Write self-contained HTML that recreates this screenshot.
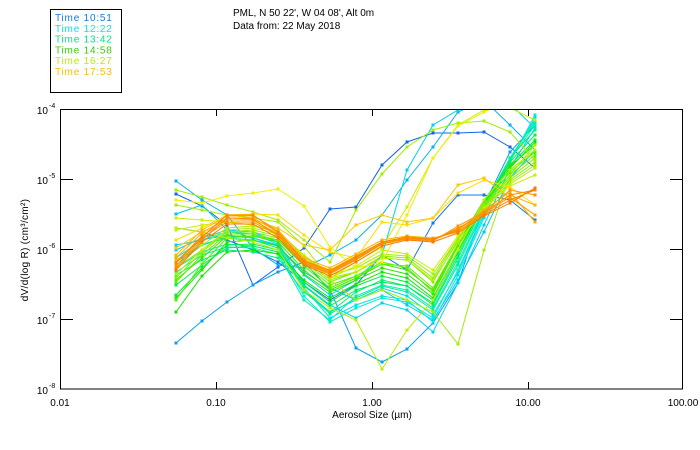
<!DOCTYPE html>
<html><head><meta charset="utf-8">
<style>
html,body{margin:0;padding:0;background:#fff;}
svg{display:block;}
text{font-family:"Liberation Sans",sans-serif;fill:#000;}
.s polyline{fill:none;stroke-width:1;}
.s path{fill:none;stroke-width:3;stroke-linecap:square;}
</style></head><body>
<svg width="700" height="450" viewBox="0 0 700 450" xmlns="http://www.w3.org/2000/svg">
<rect x="0" y="0" width="700" height="450" fill="#fff"/>
<defs><clipPath id="pc"><rect x="60" y="109" width="623" height="280"/></clipPath></defs>

<!-- legend -->
<rect x="50.5" y="9.5" width="71" height="83" fill="none" stroke="#000" stroke-width="1"/>
<g font-size="10" letter-spacing="0.8">
<text x="55" y="21" style="fill:#1478f0">Time 10:51</text>
<text x="55" y="31.8" style="fill:#00e6f0">Time 12:22</text>
<text x="55" y="42.6" style="fill:#00e680">Time 13:42</text>
<text x="55" y="53.4" style="fill:#32d200">Time 14:58</text>
<text x="55" y="64.2" style="fill:#b4f000">Time 16:27</text>
<text x="55" y="75" style="fill:#ffbe00">Time 17:53</text>
</g>

<!-- title -->
<text x="233" y="16" font-size="10">PML, N 50 22', W 04 08', Alt 0m</text>
<text x="233" y="29" font-size="10">Data from: 22 May 2018</text>

<!-- series -->
<g clip-path="url(#pc)" class="s">
<g stroke="#1464f0"><polyline points="176,194 202,206 227,225 253,285 278,267 304,248 330,209 356,207 382,165 407,142 433,133 458,133 484,132 510,147 535,168"/><path d="M176 194h0M202 206h0M227 225h0M253 285h0M278 267h0M304 248h0M330 209h0M356 207h0M382 165h0M407 142h0M433 133h0M458 133h0M484 132h0M510 147h0M535 168h0"/></g>
<g stroke="#1478f0"><polyline points="176,228 202,232 227,240 253,250 278,262 304,282 330,300 356,285 382,255 407,270 433,223 458,195 484,195 510,200 535,220"/><path d="M176 228h0M202 232h0M227 240h0M253 250h0M278 262h0M304 282h0M330 300h0M356 285h0M382 255h0M407 270h0M433 223h0M458 195h0M484 195h0M510 200h0M535 220h0"/></g>
<g stroke="#0aa0f0"><polyline points="176,343 202,321 227,302 253,285 278,272 304,262 330,290 356,348 382,362 407,349 433,323 458,283 484,205 510,152 535,125"/><path d="M176 343h0M202 321h0M227 302h0M253 285h0M278 272h0M304 262h0M330 290h0M356 348h0M382 362h0M407 349h0M433 323h0M458 283h0M484 205h0M510 152h0M535 125h0"/></g>
<g stroke="#00b4f0"><polyline points="176,181 202,200 227,215 253,248 278,265 304,268 330,255 356,240 382,215 407,180 433,147 458,112 484,100 510,125 535,150"/><path d="M176 181h0M202 200h0M227 215h0M253 248h0M278 265h0M304 268h0M330 255h0M356 240h0M382 215h0M407 180h0M433 147h0M458 112h0M484 100h0M510 125h0M535 150h0"/></g>
<g stroke="#00c8f0"><polyline points="176,214 202,205 227,230 253,238 278,246 304,272 330,288 356,300 382,290 407,305 433,320 458,280 484,232 510,178 535,150"/><path d="M176 214h0M202 205h0M227 230h0M253 238h0M278 246h0M304 272h0M330 288h0M356 300h0M382 290h0M407 305h0M433 320h0M458 280h0M484 232h0M510 178h0M535 150h0"/></g>
<g stroke="#00d2f0"><polyline points="176,245 202,240 227,235 253,238 278,245 304,275 330,295 356,280 382,255 407,170 433,125 458,110 484,100 510,104 535,128"/><path d="M176 245h0M202 240h0M227 235h0M253 238h0M278 245h0M304 275h0M330 295h0M356 280h0M382 255h0M407 170h0M433 125h0M458 110h0M484 100h0M510 104h0M535 128h0"/></g>
<g stroke="#00d2f0"><polyline points="176,250 202,238 227,230 253,232 278,242 304,285 330,305 356,318 382,303 407,310 433,332 458,283 484,225 510,168 535,128"/><path d="M176 250h0M202 238h0M227 230h0M253 232h0M278 242h0M304 285h0M330 305h0M356 318h0M382 303h0M407 310h0M433 332h0M458 283h0M484 225h0M510 168h0M535 128h0"/></g>
<g stroke="#00dcf0"><polyline points="176,262 202,245 227,236 253,238 278,246 304,290 330,312 356,300 382,288 407,296 433,315 458,272 484,215 510,160 535,118"/><path d="M176 262h0M202 245h0M227 236h0M253 238h0M278 246h0M304 290h0M330 312h0M356 300h0M382 288h0M407 296h0M433 315h0M458 272h0M484 215h0M510 160h0M535 118h0"/></g>
<g stroke="#00e6e6"><polyline points="176,258 202,240 227,232 253,234 278,244 304,288 330,318 356,305 382,296 407,300 433,322 458,275 484,218 510,162 535,115"/><path d="M176 258h0M202 240h0M227 232h0M253 234h0M278 244h0M304 288h0M330 318h0M356 305h0M382 296h0M407 300h0M433 322h0M458 275h0M484 218h0M510 162h0M535 115h0"/></g>
<g stroke="#00f0d2"><polyline points="176,268 202,252 227,244 253,246 278,252 304,296 330,322 356,308 382,298 407,302 433,318 458,270 484,212 510,158 535,120"/><path d="M176 268h0M202 252h0M227 244h0M253 246h0M278 252h0M304 296h0M330 322h0M356 308h0M382 298h0M407 302h0M433 318h0M458 270h0M484 212h0M510 158h0M535 120h0"/></g>
<g stroke="#00f0b4"><polyline points="176,272 202,255 227,247 253,248 278,254 304,300 330,320 356,296 382,285 407,290 433,308 458,262 484,208 510,160 535,125"/><path d="M176 272h0M202 255h0M227 247h0M253 248h0M278 254h0M304 300h0M330 320h0M356 296h0M382 285h0M407 290h0M433 308h0M458 262h0M484 208h0M510 160h0M535 125h0"/></g>
<g stroke="#00f096"><polyline points="176,265 202,245 227,238 253,240 278,248 304,290 330,314 356,298 382,286 407,292 433,310 458,265 484,210 510,158 535,122"/><path d="M176 265h0M202 245h0M227 238h0M253 240h0M278 248h0M304 290h0M330 314h0M356 298h0M382 286h0M407 292h0M433 310h0M458 265h0M484 210h0M510 158h0M535 122h0"/></g>
<g stroke="#00f078"><polyline points="176,275 202,260 227,250 253,252 278,258 304,292 330,312 356,292 382,280 407,286 433,305 458,258 484,205 510,158 535,130"/><path d="M176 275h0M202 260h0M227 250h0M253 252h0M278 258h0M304 292h0M330 312h0M356 292h0M382 280h0M407 286h0M433 305h0M458 258h0M484 205h0M510 158h0M535 130h0"/></g>
<g stroke="#00f05a"><polyline points="176,285 202,265 227,248 253,246 278,252 304,286 330,306 356,290 382,282 407,286 433,303 458,255 484,203 510,162 535,135"/><path d="M176 285h0M202 265h0M227 248h0M253 246h0M278 252h0M304 286h0M330 306h0M356 290h0M382 282h0M407 286h0M433 303h0M458 255h0M484 203h0M510 162h0M535 135h0"/></g>
<g stroke="#00f03c"><polyline points="176,295 202,268 227,245 253,244 278,250 304,282 330,302 356,286 382,276 407,282 433,300 458,252 484,202 510,165 535,140"/><path d="M176 295h0M202 268h0M227 245h0M253 244h0M278 250h0M304 282h0M330 302h0M356 286h0M382 276h0M407 282h0M433 300h0M458 252h0M484 202h0M510 165h0M535 140h0"/></g>
<g stroke="#14e600"><polyline points="176,312 202,276 227,252 253,250 278,254 304,280 330,298 356,284 382,272 407,278 433,298 458,250 484,204 510,168 535,142"/><path d="M176 312h0M202 276h0M227 252h0M253 250h0M278 254h0M304 280h0M330 298h0M356 284h0M382 272h0M407 278h0M433 298h0M458 250h0M484 204h0M510 168h0M535 142h0"/></g>
<g stroke="#28e600"><polyline points="176,298 202,270 227,242 253,240 278,246 304,274 330,292 356,280 382,268 407,274 433,294 458,246 484,200 510,166 535,145"/><path d="M176 298h0M202 270h0M227 242h0M253 240h0M278 246h0M304 274h0M330 292h0M356 280h0M382 268h0M407 274h0M433 294h0M458 246h0M484 200h0M510 166h0M535 145h0"/></g>
<g stroke="#3ce600"><polyline points="176,280 202,258 227,236 253,236 278,242 304,270 330,290 356,278 382,264 407,270 433,290 458,244 484,200 510,170 535,150"/><path d="M176 280h0M202 258h0M227 236h0M253 236h0M278 242h0M304 270h0M330 290h0M356 278h0M382 264h0M407 270h0M433 290h0M458 244h0M484 200h0M510 170h0M535 150h0"/></g>
<g stroke="#50f000"><polyline points="176,300 202,264 227,238 253,236 278,240 304,266 330,288 356,276 382,262 407,268 433,292 458,246 484,204 510,172 535,152"/><path d="M176 300h0M202 264h0M227 238h0M253 236h0M278 240h0M304 266h0M330 288h0M356 276h0M382 262h0M407 268h0M433 292h0M458 246h0M484 204h0M510 172h0M535 152h0"/></g>
<g stroke="#64f000"><polyline points="176,282 202,255 227,234 253,234 278,240 304,264 330,285 356,276 382,264 407,266 433,288 458,244 484,206 510,175 535,155"/><path d="M176 282h0M202 255h0M227 234h0M253 234h0M278 240h0M304 264h0M330 285h0M356 276h0M382 264h0M407 266h0M433 288h0M458 244h0M484 206h0M510 175h0M535 155h0"/></g>
<g stroke="#78f000"><polyline points="176,268 202,250 227,232 253,232 278,238 304,262 330,282 356,272 382,258 407,260 433,282 458,240 484,204 510,178 535,158"/><path d="M176 268h0M202 250h0M227 232h0M253 232h0M278 238h0M304 262h0M330 282h0M356 272h0M382 258h0M407 260h0M433 282h0M458 240h0M484 204h0M510 178h0M535 158h0"/></g>
<g stroke="#8cf000"><polyline points="176,278 202,252 227,232 253,230 278,236 304,260 330,280 356,272 382,256 407,258 433,278 458,238 484,206 510,180 535,162"/><path d="M176 278h0M202 252h0M227 232h0M253 230h0M278 236h0M304 260h0M330 280h0M356 272h0M382 256h0M407 258h0M433 278h0M458 238h0M484 206h0M510 180h0M535 162h0"/></g>
<g stroke="#a0f000"><polyline points="176,205 202,210 227,215 253,218 278,222 304,246 330,280 356,300 382,290 407,300 433,312 458,344 484,250 510,175 535,145"/><path d="M176 205h0M202 210h0M227 215h0M253 218h0M278 222h0M304 246h0M330 280h0M356 300h0M382 290h0M407 300h0M433 312h0M458 344h0M484 250h0M510 175h0M535 145h0"/></g>
<g stroke="#a0f000"><polyline points="176,190 202,197 227,205 253,212 278,220 304,240 330,262 356,210 382,174 407,147 433,130 458,123 484,121 510,132 535,160"/><path d="M176 190h0M202 197h0M227 205h0M253 212h0M278 220h0M304 240h0M330 262h0M356 210h0M382 174h0M407 147h0M433 130h0M458 123h0M484 121h0M510 132h0M535 160h0"/></g>
<g stroke="#a0f000"><polyline points="176,260 202,245 227,228 253,226 278,232 304,255 330,275 356,268 382,254 407,256 433,274 458,238 484,208 510,182 535,165"/><path d="M176 260h0M202 245h0M227 228h0M253 226h0M278 232h0M304 255h0M330 275h0M356 268h0M382 254h0M407 256h0M433 274h0M458 238h0M484 208h0M510 182h0M535 165h0"/></g>
<g stroke="#b4f000"><polyline points="176,274 202,250 227,230 253,228 278,234 304,258 330,278 356,272 382,258 407,260 433,280 458,242 484,210 510,184 535,168"/><path d="M176 274h0M202 250h0M227 230h0M253 228h0M278 234h0M304 258h0M330 278h0M356 272h0M382 258h0M407 260h0M433 280h0M458 242h0M484 210h0M510 184h0M535 168h0"/></g>
<g stroke="#b4f000"><polyline points="176,228 202,232 227,238 253,242 278,250 304,290 330,308 356,320 382,369 407,330 433,300 458,250 484,200 510,170 535,150"/><path d="M176 228h0M202 232h0M227 238h0M253 242h0M278 250h0M304 290h0M330 308h0M356 320h0M382 369h0M407 330h0M433 300h0M458 250h0M484 200h0M510 170h0M535 150h0"/></g>
<g stroke="#c8f000"><polyline points="176,218 202,220 227,222 253,225 278,232 304,255 330,278 356,262 382,247 407,207 433,158 458,125 484,110 510,108 535,120"/><path d="M176 218h0M202 220h0M227 222h0M253 225h0M278 232h0M304 255h0M330 278h0M356 262h0M382 247h0M407 207h0M433 158h0M458 125h0M484 110h0M510 108h0M535 120h0"/></g>
<g stroke="#c8f000"><polyline points="176,230 202,225 227,222 253,225 278,232 304,256 330,278 356,266 382,250 407,254 433,270 458,236 484,208 510,186 535,175"/><path d="M176 230h0M202 225h0M227 222h0M253 225h0M278 232h0M304 256h0M330 278h0M356 266h0M382 250h0M407 254h0M433 270h0M458 236h0M484 208h0M510 186h0M535 175h0"/></g>
<g stroke="#f0f000"><polyline points="176,200 202,203 227,196 253,193 278,189 304,206 330,247 356,268 382,262 407,215 433,158 458,126 484,112 510,100 535,98"/><path d="M176 200h0M202 203h0M227 196h0M253 193h0M278 189h0M304 206h0M330 247h0M356 268h0M382 262h0M407 215h0M433 158h0M458 126h0M484 112h0M510 100h0M535 98h0"/></g>
<g stroke="#ffdc00"><polyline points="176,240 202,228 227,215 253,214 278,215 304,235 330,252 356,258 382,222 407,225 433,218 458,193 484,180 510,187 535,205"/><path d="M176 240h0M202 228h0M227 215h0M253 214h0M278 215h0M304 235h0M330 252h0M356 258h0M382 222h0M407 225h0M433 218h0M458 193h0M484 180h0M510 187h0M535 205h0"/></g>
<g stroke="#ffc800"><polyline points="176,248 202,232 227,220 253,220 278,228 304,245 330,250 356,225 382,215 407,222 433,218 458,185 484,178 510,198 535,215"/><path d="M176 248h0M202 232h0M227 220h0M253 220h0M278 228h0M304 245h0M330 250h0M356 225h0M382 215h0M407 222h0M433 218h0M458 185h0M484 178h0M510 198h0M535 215h0"/></g>
<g stroke="#ffb400"><polyline points="176,255 202,230 227,216 253,216 278,230 304,258 330,268 356,254 382,240 407,236 433,238 458,232 484,212 510,195 535,205"/><path d="M176 255h0M202 230h0M227 216h0M253 216h0M278 230h0M304 258h0M330 268h0M356 254h0M382 240h0M407 236h0M433 238h0M458 232h0M484 212h0M510 195h0M535 205h0"/></g>
<g stroke="#ffaa00"><polyline points="176,258 202,233 227,218 253,218 278,232 304,260 330,270 356,256 382,242 407,237 433,240 458,230 484,210 510,192 535,222"/><path d="M176 258h0M202 233h0M227 218h0M253 218h0M278 232h0M304 260h0M330 270h0M356 256h0M382 242h0M407 237h0M433 240h0M458 230h0M484 210h0M510 192h0M535 222h0"/></g>
<g stroke="#ffa000"><polyline points="176,262 202,236 227,220 253,220 278,234 304,262 330,272 356,258 382,243 407,238 433,240 458,228 484,214 510,197 535,215"/><path d="M176 262h0M202 236h0M227 220h0M253 220h0M278 234h0M304 262h0M330 272h0M356 258h0M382 243h0M407 238h0M433 240h0M458 228h0M484 214h0M510 197h0M535 215h0"/></g>
<g stroke="#ff9600"><polyline points="176,266 202,238 227,222 253,222 278,235 304,264 330,274 356,260 382,244 407,239 433,241 458,226 484,212 510,190 535,195"/><path d="M176 266h0M202 238h0M227 222h0M253 222h0M278 235h0M304 264h0M330 274h0M356 260h0M382 244h0M407 239h0M433 241h0M458 226h0M484 212h0M510 190h0M535 195h0"/></g>
<g stroke="#ff8c00"><polyline points="176,268 202,240 227,218 253,219 278,236 304,263 330,273 356,259 382,244 407,238 433,240 458,229 484,213 510,195 535,190"/><path d="M176 268h0M202 240h0M227 218h0M253 219h0M278 236h0M304 263h0M330 273h0M356 259h0M382 244h0M407 238h0M433 240h0M458 229h0M484 213h0M510 195h0M535 190h0"/></g>
<g stroke="#ff8200"><polyline points="176,263 202,237 227,215 253,215 278,232 304,261 330,271 356,257 382,242 407,237 433,239 458,231 484,215 510,200 535,190"/><path d="M176 263h0M202 237h0M227 215h0M253 215h0M278 232h0M304 261h0M330 271h0M356 257h0M382 242h0M407 237h0M433 239h0M458 231h0M484 215h0M510 200h0M535 190h0"/></g>
<g stroke="#ff7800"><polyline points="176,270 202,242 227,224 253,224 278,238 304,265 330,276 356,262 382,246 407,240 433,242 458,233 484,216 510,203 535,188"/><path d="M176 270h0M202 242h0M227 224h0M253 224h0M278 238h0M304 265h0M330 276h0M356 262h0M382 246h0M407 240h0M433 242h0M458 233h0M484 216h0M510 203h0M535 188h0"/></g>
</g>

<!-- axes -->
<rect x="60.5" y="109.5" width="622" height="279.5" fill="none" stroke="#000" stroke-width="1"/>
<g stroke="#000" stroke-width="1">
<line x1="60" y1="179.5" x2="73" y2="179.5"/>
<line x1="60" y1="249.5" x2="73" y2="249.5"/>
<line x1="60" y1="319.5" x2="73" y2="319.5"/>
<line x1="670" y1="179.5" x2="683" y2="179.5"/>
<line x1="670" y1="249.5" x2="683" y2="249.5"/>
<line x1="670" y1="319.5" x2="683" y2="319.5"/>
<line x1="216.5" y1="389" x2="216.5" y2="382"/>
<line x1="372.5" y1="389" x2="372.5" y2="382"/>
<line x1="528.5" y1="389" x2="528.5" y2="382"/>
<line x1="216.5" y1="109" x2="216.5" y2="116"/>
<line x1="372.5" y1="109" x2="372.5" y2="116"/>
<line x1="528.5" y1="109" x2="528.5" y2="116"/>
</g>

<!-- y tick labels -->
<g font-size="10">
<text x="48" y="114" text-anchor="end">10</text><text x="49" y="108" font-size="7">-4</text>
<text x="48" y="184" text-anchor="end">10</text><text x="49" y="178" font-size="7">-5</text>
<text x="48" y="254" text-anchor="end">10</text><text x="49" y="248" font-size="7">-6</text>
<text x="48" y="324" text-anchor="end">10</text><text x="49" y="318" font-size="7">-7</text>
<text x="48" y="394" text-anchor="end">10</text><text x="49" y="388" font-size="7">-8</text>
</g>

<!-- x tick labels -->
<g font-size="10" text-anchor="middle">
<text x="60" y="406">0.01</text>
<text x="216" y="406">0.10</text>
<text x="372" y="406">1.00</text>
<text x="528" y="406">10.00</text>
<text x="683" y="406">100.00</text>
<text x="372" y="418">Aerosol Size (µm)</text>
</g>

<!-- y axis label -->
<text x="0" y="0" font-size="10" letter-spacing="0.3" text-anchor="middle" transform="translate(28,250) rotate(-90)">dV/d(log R)  (cm³/cm²)</text>
</svg>
</body></html>
